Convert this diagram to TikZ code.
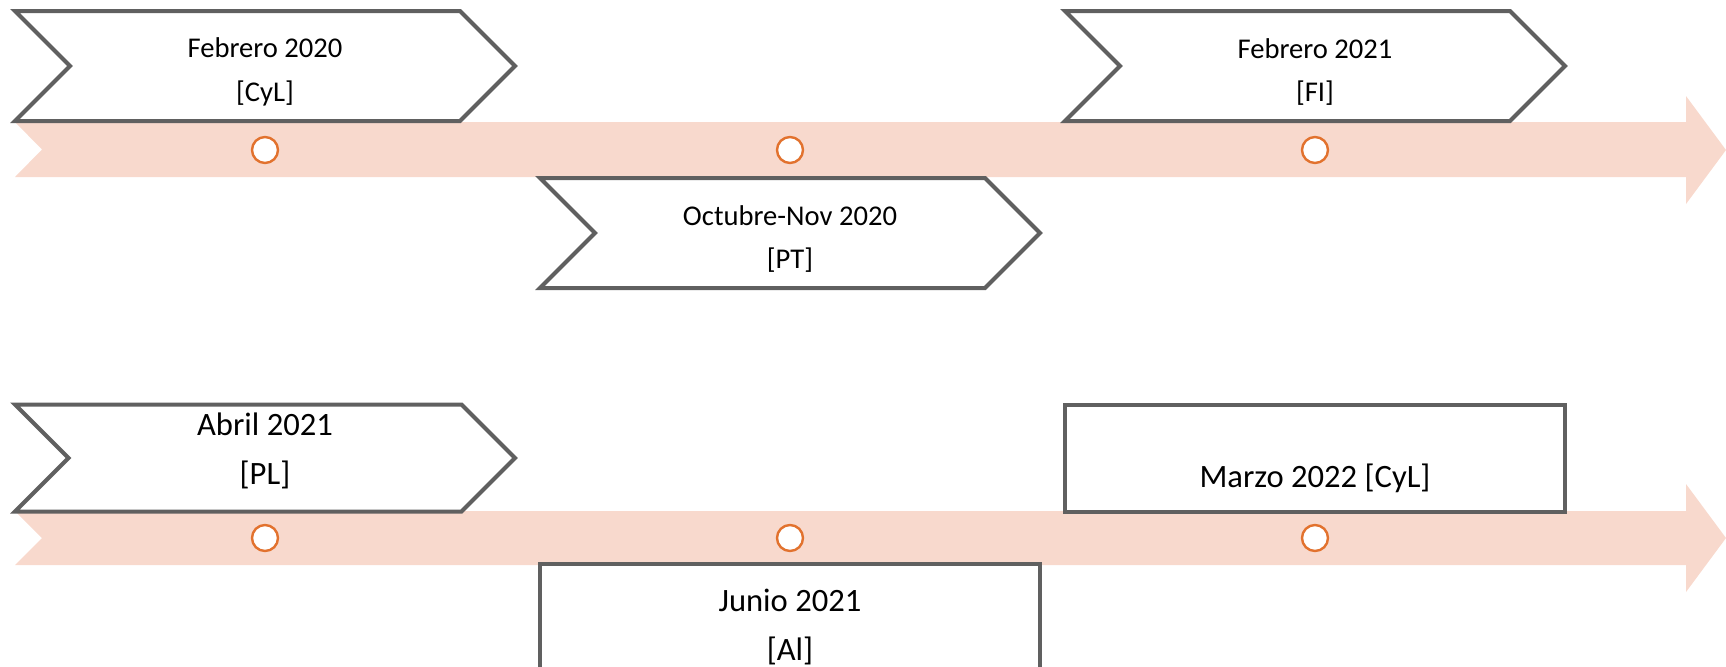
\documentclass[tikz,border=0pt]{standalone}
\usepackage{fontspec}
\setmainfont{Carlito}
\usepackage{tikz}
\usetikzlibrary{shapes.symbols}

\definecolor{bandpink}{RGB}{248,217,205}
\definecolor{dotorange}{RGB}{226,114,46}
\definecolor{framegray}{RGB}{96,96,96}

\tikzset{
  chevron/.style={signal, signal from=west, signal to=east,
    signal pointer angle=90, draw=framegray, line width=2pt, fill=white,
    minimum width=250pt, minimum height=55pt, inner sep=0pt, outer sep=0pt},
  datebox/.style={rectangle, draw=framegray, line width=2pt, fill=white,
    minimum width=250pt, minimum height=54pt, inner sep=0pt, outer sep=0pt},
  milestone/.style={circle, draw=dotorange, line width=1.2pt, fill=white,
    minimum size=13pt, inner sep=0pt},
  smalltext/.style={align=center, font=\fontsize{14.3}{21.8}\selectfont},
  bigtext/.style={align=center, font=\fontsize{16.3}{24.5}\selectfont}
}

\begin{document}
\begin{tikzpicture}[x=0.5pt, y=-0.5pt]
    \clip (0,0) rectangle (1726,666);

    % Timeline bands
    \fill[bandpink] (15,122) -- (1686,122) -- (1686,96) -- (1726,150)
      -- (1686,204) -- (1686,177) -- (15,177) -- (42,149.5) -- cycle;
    \fill[bandpink] (15,511) -- (1686,511) -- (1686,484) -- (1726,538)
      -- (1686,592) -- (1686,565) -- (15,565) -- (42,538) -- cycle;

    % Milestones
    \node[milestone] (m1) at (265,150) {};
    \node[milestone] (m2) at (790,150) {};
    \node[milestone] (m3) at (1315,150) {};
    \node[milestone] (m4) at (265,538) {};
    \node[milestone] (m5) at (790,538) {};
    \node[milestone] (m6) at (1315,538) {};

    % First row
    \node[chevron] (feb20) at (265,66) {};
    \node[chevron] (oct20) at (790,233) {};
    \node[chevron] (feb21) at (1315,66) {};
    \node[smalltext] (feb20txt) at ([yshift=-3pt]feb20.center) {Febrero 2020\\{}[CyL]};
    \node[smalltext] (oct20txt) at ([yshift=-3pt]oct20.center) {Octubre-Nov 2020\\{}[PT]};
    \node[smalltext] (feb21txt) at ([yshift=-3pt]feb21.center) {Febrero 2021\\{}[FI]};

    % Second row
    \node[chevron, minimum height=53.5pt] (abr21) at (265,458) {};
    \node[datebox, minimum height=56pt] (jun21) at (790,620) {};
    \node[datebox, minimum height=53.5pt] (mar22) at (1315,458) {};
    \node[bigtext] (abr21txt) at ([yshift=3.5pt]abr21.center) {Abril 2021\\{}[PL]};
    \node[bigtext] (jun21txt) at ([yshift=-3.5pt]jun21.center) {Junio 2021\\{}[Al]};
    \node[bigtext] (mar22txt) at ([yshift=-10pt]mar22.center) {Marzo 2022 [CyL]};
\end{tikzpicture}
\end{document}
